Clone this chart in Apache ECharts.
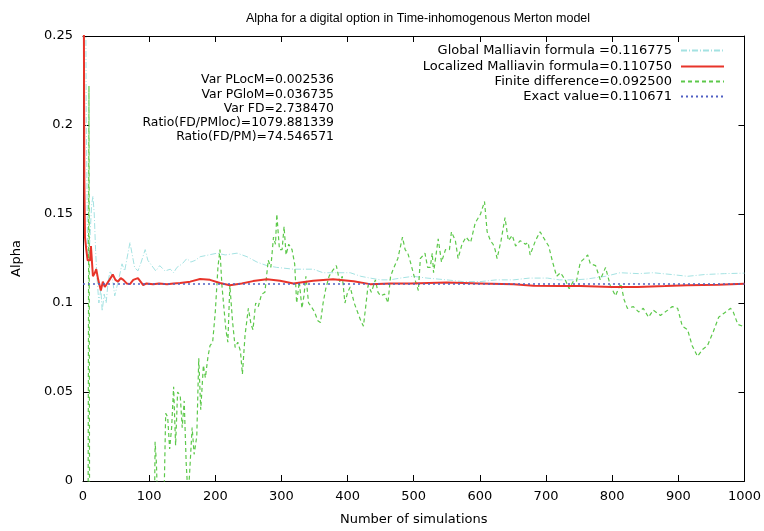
<!DOCTYPE html>
<html>
<head>
<meta charset="utf-8">
<script src="https://cdn.jsdelivr.net/npm/echarts@6/dist/echarts.min.js"></script>
<style>html,body{margin:0;padding:0;background:#fff}#c{width:764px;height:531px}</style>
</head>
<body>
<div id="c"></div>
<script>
// ---- data ----
const seriesNames = [
  'Global Malliavin formula =0.116775',
  'Localized Malliavin formula=0.110750',
  'Finite difference=0.092500',
  'Exact value=0.110671'
];
const annotations = [
  'Var PLocM=0.002536',
  'Var PGloM=0.036735',
  'Var FD=2.738470',
  'Ratio(FD/PMloc)=1079.881339',
  'Ratio(FD/PM)=74.546571'
];
const chartTitle = 'Alpha for a digital option in Time-inhomogenous Merton model';
const xName = 'Number of simulations';
const yName = 'Alpha';

const globX = [1,4,5,7,9,11,13,15,17,19,21,24,27,29,32,35,38,41,44,48,51,55,59,63,66,71,74,78,83,88,94,98,104,110,116,124,132,137,142,150,157,163,170,177,190,203,215,233,248,263,278,293,318,328,348,363,378,404,420,434,450,464,480,499,520,550,575,600,625,651,675,702,720,741,760,790,812,840,862,890,914,940,970,1000];
const globY = [0.6,0.28,0.2,0.13,0.125,0.14,0.155,0.16,0.15,0.13,0.115,0.1,0.108,0.0955,0.105,0.1,0.112,0.118,0.115,0.104,0.103,0.115,0.122,0.118,0.124,0.134,0.128,0.12,0.118,0.123,0.13,0.124,0.121,0.118,0.121,0.118,0.119,0.117,0.12,0.122,0.125,0.123,0.124,0.126,0.127,0.128,0.127,0.128,0.126,0.123,0.121,0.12,0.119,0.119,0.119,0.117,0.117,0.117,0.115,0.114,0.113,0.113,0.114,0.115,0.114,0.113,0.112,0.112,0.113,0.113,0.114,0.114,0.113,0.113,0.1134,0.115,0.117,0.1165,0.117,0.116,0.115,0.116,0.1165,0.116775];

const locX = [1,2,3,5,7,9,11,12,15,18,20,23,27,30,33,36,40,45,49,53,57,61,66,71,76,79,83,86,91,96,106,115,127,137,147,162,177,192,207,222,240,257,278,298,318,348,378,409,434,465,495,550,600,651,681,720,752,800,838,880,914,960,1000];
const locY = [0.3,0.17,0.137,0.13,0.124,0.125,0.124,0.132,0.115,0.117,0.119,0.113,0.107,0.112,0.109,0.1095,0.113,0.116,0.113,0.112,0.114,0.113,0.111,0.1106,0.113,0.112,0.114,0.114,0.11,0.111,0.1105,0.111,0.1105,0.111,0.1112,0.112,0.1135,0.113,0.1112,0.11,0.111,0.1123,0.1134,0.1125,0.111,0.1125,0.1134,0.1122,0.1106,0.111,0.111,0.1115,0.111,0.1105,0.1097,0.1095,0.1095,0.109,0.109,0.1095,0.11,0.1103,0.11075];

const fdX = [1,4,7,9,11,40,80,106,109,111,114,122,125,128,131,134,137,140,143,147,150,153,156,159,162,165,168,172,175,178,182,185,189,192,196,200,204,207,210,213,216,219,222,226,230,234,238,241,245,250,254,257,261,265,270,275,280,284,288,291,293,297,301,304,307,311,316,320,323,327,331,334,337,341,345,350,355,359,363,367,372,377,383,388,392,396,400,404,410,416,420,424,428,431,436,442,446,450,456,461,465,469,476,483,487,491,495,502,507,510,517,521,525,528,530,537,542,548,554,557,563,567,573,579,586,593,601,607,611,616,620,623,626,632,638,643,649,654,661,669,673,676,684,691,699,704,710,716,722,729,735,741,746,749,752,758,763,767,775,782,790,797,805,813,818,823,832,840,847,855,862,873,884,891,899,906,914,921,929,937,944,953,961,968,979,983,990,997,1000];
const fdY = [-0.5,-0.3,-0.15,0.222,-0.3,-0.4,-0.2,-0.1,0.022,0.01,-0.03,-0.02,0.038,0.036,0.018,0.03,0.053,0.02,0.05,0.048,0.03,0.045,0.01,-0.01,0.01,0.03,0.015,0.025,0.069,0.04,0.065,0.058,0.07,0.076,0.078,0.095,0.12,0.13,0.11,0.11,0.085,0.078,0.11,0.09,0.075,0.078,0.073,0.06,0.082,0.097,0.088,0.085,0.1,0.098,0.105,0.106,0.124,0.12,0.137,0.133,0.15,0.13,0.13,0.143,0.127,0.133,0.13,0.122,0.1,0.112,0.097,0.104,0.115,0.1,0.098,0.095,0.09,0.089,0.1,0.108,0.115,0.118,0.121,0.112,0.115,0.1,0.106,0.109,0.1,0.094,0.09,0.087,0.1,0.11,0.106,0.113,0.106,0.104,0.105,0.1,0.115,0.119,0.125,0.137,0.13,0.128,0.123,0.113,0.107,0.125,0.128,0.12,0.12,0.128,0.117,0.136,0.123,0.13,0.13,0.14,0.135,0.125,0.133,0.137,0.134,0.145,0.15,0.157,0.14,0.135,0.133,0.13,0.125,0.135,0.148,0.135,0.138,0.132,0.135,0.133,0.134,0.127,0.135,0.14,0.135,0.132,0.123,0.115,0.117,0.113,0.108,0.112,0.112,0.118,0.123,0.125,0.127,0.122,0.121,0.113,0.12,0.11,0.104,0.111,0.102,0.097,0.098,0.095,0.097,0.092,0.096,0.093,0.096,0.098,0.097,0.087,0.085,0.076,0.07,0.074,0.076,0.084,0.092,0.094,0.097,0.095,0.088,0.087,0.088];

const exactX = [0, 1000];
const exactY = [0.110671, 0.110671];

const xMin = 0, xMax = 1000, xStep = 100;
const yMin = 0, yMax = 0.25, yStep = 0.05;

// ---- chart ----
const zip = (xs, ys) => xs.map((x, i) => [x, ys[i]]);
const FONT = 'Liberation Sans, Arial, Helvetica, sans-serif';
const BFONT = 'DejaVu Sans, Liberation Sans, sans-serif';
const colors = ['#a4e2e2', '#e8342a', '#5cc84a', '#5060c4'];
const styles = [
  { width: 1, type: [6, 2, 1, 2] },
  { width: 2, type: 'solid' },
  { width: 1.2, type: [4, 3] },
  { width: 1.5, type: [2, 3] }
];
const datas = [zip(globX, globY), zip(locX, locY), zip(fdX, fdY), zip(exactX, exactY)];
const legendCenters = [51, 67, 82, 97];

const chart = echarts.init(document.getElementById('c'), null, { renderer: 'canvas' });

const axisCommon = {
  axisLine: { show: true, onZero: false, lineStyle: { color: '#000', width: 1 } },
  axisTick: { show: true, inside: true, length: 6, lineStyle: { color: '#000' } },
  splitLine: { show: false }
};

chart.setOption({
  animation: false,
  backgroundColor: '#fff',
  textStyle: { fontFamily: BFONT },
  title: {
    text: chartTitle,
    left: 413, top: 7, textAlign: 'center',
    textStyle: { fontSize: 12.5, fontWeight: 'normal', color: '#000', fontFamily: FONT }
  },
  grid: { left: 83, right: 19, top: 36, bottom: 48, containLabel: false },
  legend: seriesNames.map((n, i) => ({
    data: [n], orient: 'vertical', right: 39, top: legendCenters[i] - 7,
    align: 'right', padding: 0, itemWidth: 43, itemHeight: 14, itemGap: 0,
    selectedMode: false,
    itemStyle: { opacity: 0, borderWidth: 0 },
    textStyle: { fontSize: 13, color: '#000', fontFamily: BFONT, padding: [0, 4, 0, 0] }
  })),
  xAxis: [
    Object.assign({}, axisCommon, {
      type: 'value', min: xMin, max: xMax, interval: xStep, position: 'bottom',
      name: xName, nameLocation: 'middle', nameGap: 32,
      nameTextStyle: { fontSize: 13, color: '#000', fontFamily: BFONT },
      axisLabel: { color: '#000', fontSize: 13, margin: 9, fontFamily: BFONT, formatter: v => String(v) }
    }),
    Object.assign({}, axisCommon, {
      type: 'value', min: xMin, max: xMax, interval: xStep, position: 'top',
      axisLabel: { show: false }
    })
  ],
  yAxis: [
    Object.assign({}, axisCommon, {
      type: 'value', min: yMin, max: yMax, interval: yStep, position: 'left',
      name: yName, nameLocation: 'middle', nameGap: 60, nameRotate: 90,
      nameTextStyle: { fontSize: 13, color: '#000', fontFamily: BFONT },
      axisLabel: { color: '#000', fontSize: 13, margin: 10, fontFamily: BFONT, formatter: v => String(v) }
    }),
    Object.assign({}, axisCommon, {
      type: 'value', min: yMin, max: yMax, interval: yStep, position: 'right',
      axisLabel: { show: false }
    })
  ],
  graphic: annotations.map((t, i) => ({
    type: 'text',
    style: { text: t, x: 334, y: 80 + i * 14.3, align: 'right', verticalAlign: 'middle',
             font: '12.4px ' + BFONT, fill: '#000' }
  })),
  series: seriesNames.map((n, i) => ({
    name: n, type: 'line', data: datas[i], xAxisIndex: 0, yAxisIndex: 0,
    showSymbol: false, symbol: 'none', clip: true, smooth: false,
    lineStyle: Object.assign({ color: colors[i] }, styles[i]),
    itemStyle: { color: colors[i] },
    z: [1, 3, 2, 4][i]
  }))
});
</script>
</body>
</html>
